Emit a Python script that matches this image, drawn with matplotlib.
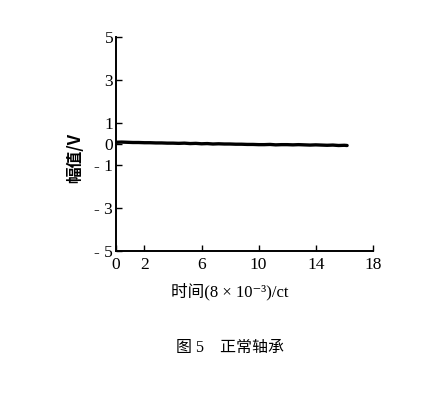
import matplotlib.pyplot as plt
from matplotlib.ticker import FixedLocator

plt.rcParams['font.family'] = ['Liberation Serif', 'Noto Sans CJK SC', 'DejaVu Serif']

# signal (time in 8e-3 ct, amplitude in V)
t = [0.0, 0.4, 0.8, 1.2, 1.6, 2.0, 2.4, 2.8, 3.2, 3.6, 4.0, 4.4, 4.8, 5.2,
     5.6, 6.0, 6.4, 6.8, 7.2, 7.6, 8.0, 8.4, 8.8, 9.2, 9.6, 10.0, 10.4,
     10.8, 11.2, 11.6, 12.0, 12.4, 12.8, 13.2, 13.6, 14.0, 14.4, 14.8,
     15.2, 15.6, 16.0, 16.2]
amp = [0.08, 0.09, 0.08, 0.07, 0.07, 0.06, 0.06, 0.05, 0.05, 0.04, 0.04,
       0.03, 0.04, 0.02, 0.03, 0.01, 0.02, 0.00, 0.01, 0.00, 0.00, -0.01,
       -0.01, -0.02, -0.02, -0.03, -0.03, -0.02, -0.04, -0.03, -0.03,
       -0.04, -0.03, -0.04, -0.05, -0.04, -0.05, -0.06, -0.05, -0.07,
       -0.06, -0.07]

xticks = [0, 2, 6, 10, 14, 18]
yticks = [-5, -3, -1, 0, 1, 3, 5]
ytick_labels = ['- 5', '- 3', '- 1', '0', '1', '3', '5']

fig = plt.figure(figsize=(4.34, 4.0), dpi=100)
ax = fig.add_axes([0.267, 0.3725, 0.592, 0.535])

ax.plot(t, amp, color='black', linewidth=2.4, solid_capstyle='round')

ax.set_xlim(0, 18)
ax.set_ylim(-5, 5)
ax.xaxis.set_major_locator(FixedLocator(xticks))
ax.yaxis.set_major_locator(FixedLocator(yticks))
ax.set_yticklabels(ytick_labels)
ax.tick_params(direction='in', length=4, width=1, labelsize=12.5)
ax.tick_params(axis='x', pad=4)
ax.tick_params(axis='y', pad=2)

ax.spines['top'].set_visible(False)
ax.spines['right'].set_visible(False)
ax.spines['left'].set_linewidth(1.4)
ax.spines['bottom'].set_linewidth(1.4)

fig.text(0.53, 0.27, '时间(8 × 10⁻³)/ct', ha='center', va='center', fontsize=12)
fig.text(0.173, 0.605, '幅值/V', rotation=90, ha='center', va='center',
         fontsize=12, fontweight='bold', family=['Noto Sans CJK SC'])
fig.text(0.53, 0.13, '图 5　正常轴承', ha='center', va='center', fontsize=11.5)

plt.savefig('out.png')
